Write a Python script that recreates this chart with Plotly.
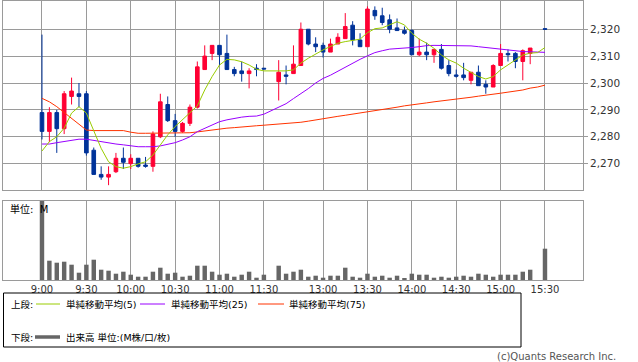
import plotly.graph_objects as go

# ---------------- categories (5-minute slots) ----------------
am_times = []
for h in (9, 10, 11):
    for m in range(0, 60, 5):
        if h == 11 and m > 30:
            break
        am_times.append(f"{h}:{m:02d}")
pm_times = []
for h in (12, 13, 14, 15):
    for m in range(0, 60, 5):
        if (h == 12 and m < 30) or (h == 15 and m > 30):
            continue
        pm_times.append(f"{h}:{m:02d}")
SPACER = " "
all_slots = am_times + [SPACER] + pm_times

tick_labels = ["9:00", "9:30", "10:00", "10:30", "11:00", "11:30",
               "13:00", "13:30", "14:00", "14:30", "15:00", "15:30"]

# ---------------- candle data (no trade at 15:25) ----------------
candle_times = am_times + [t for t in pm_times if t != "15:25"]

opens = [2289, 2282, 2289, 2283, 2295, 2296, 2296, 2275, 2266, 2265,
         2267, 2272, 2270, 2272, 2269.5, 2269, 2280, 2292, 2286, 2282,
         2285, 2291, 2305, 2311, 2314, 2311, 2305, 2304.5, 2303.5, 2305.5,
         2305.5,
         2300.5, 2303, 2303.5, 2306.5, 2320, 2314.5, 2314, 2311.5, 2314.5, 2316.5,
         2321.5, 2316, 2313.5, 2327, 2325, 2323.5, 2320.5, 2319.5, 2319.5, 2310.5,
         2311.5, 2310.5, 2312.5, 2306.5, 2303, 2303, 2301, 2304, 2299.5, 2298.5,
         2306.5, 2311, 2311, 2308, 2311, 2320.2]
highs = [2318, 2291, 2290, 2297, 2302, 2300, 2297, 2276, 2269, 2269,
         2274, 2276, 2273.5, 2272, 2272.5, 2282, 2296, 2295, 2288.5, 2285.5,
         2292, 2308, 2314, 2314, 2314, 2318, 2306, 2308, 2305.5, 2307,
         2305.5,
         2308.5, 2306.5, 2314, 2322.5, 2320, 2317, 2315, 2316.5, 2318.5, 2326,
         2323, 2318.5, 2328.5, 2328.5, 2328, 2325.5, 2324, 2321, 2320, 2316.5,
         2315, 2312.5, 2314.5, 2308.5, 2305, 2307.5, 2304, 2306.5, 2301, 2307,
         2314.5, 2312.5, 2311.5, 2312.5, 2313, 2320.2]
lows = [2279, 2278, 2274, 2281, 2292, 2291, 2273, 2266, 2264, 2262,
        2266.5, 2268, 2268, 2268.5, 2268.5, 2267, 2279.5, 2285.5, 2280, 2281.5,
        2284, 2290.5, 2305, 2308.5, 2306.5, 2305, 2302.5, 2300.5, 2298, 2302.5,
        2305.2,
        2293.5, 2299.5, 2303.5, 2306.5, 2314, 2311.5, 2309.5, 2311.5, 2314.5, 2316.5,
        2314, 2313.5, 2313.5, 2323.5, 2321.5, 2318.5, 2319.5, 2318, 2310.5, 2310,
        2308.5, 2307.5, 2305, 2302.5, 2302, 2301, 2299.5, 2299, 2296, 2298.5,
        2306.5, 2308, 2305.5, 2301, 2307, 2320]
closes = [2282, 2289, 2283, 2296, 2297, 2295, 2274, 2266, 2265, 2266,
          2272, 2270.5, 2272, 2269, 2269, 2281, 2293, 2286, 2282, 2285,
          2291, 2306, 2310, 2314, 2310.5, 2305, 2303.5, 2303.5, 2304.5, 2305,
          2305.2,
          2304, 2302.5, 2307, 2320, 2314.5, 2313.5, 2311.5, 2314.5, 2317, 2321,
          2316, 2313.5, 2327.5, 2325, 2322.5, 2320, 2319.5, 2318.5, 2310.5, 2311.5,
          2310.5, 2312.5, 2305.5, 2303.5, 2302.5, 2302, 2304, 2299, 2298.5, 2306.5,
          2311, 2310.5, 2308, 2312, 2313, 2320]

volumes = [0.79, 0.193, 0.173, 0.183, 0.153, 0.073, 0.153, 0.203, 0.103, 0.093,
           0.063, 0.083, 0.053, 0.033, 0.033, 0.083, 0.123, 0.063, 0.073, 0.033,
           0.043, 0.143, 0.143, 0.083, 0.053, 0.063, 0.033, 0.053, 0.083, 0.023,
           0.053,
           0.143, 0.063, 0.083, 0.103, 0.033, 0.043, 0.023, 0.043, 0.043, 0.123,
           0.033, 0.023, 0.063, 0.033, 0.043, 0.023, 0.043, 0.013, 0.063, 0.053,
           0.053, 0.023, 0.033, 0.023, 0.033, 0.043, 0.033, 0.063, 0.053, 0.033,
           0.053, 0.053, 0.053, 0.083, 0.103, 0.313]

# ---------------- moving averages ----------------
ma_times = am_times + pm_times
ma5 = [2274.7, 2278.2, 2280.0, 2283.2, 2288.8, 2291.2, 2288.8, 2282.5, 2275.7, 2270.7,
       2268.9, 2268.3, 2268.9, 2269.9, 2270.7, 2273.2, 2277.0, 2280.7, 2283.8, 2286.3,
       2288.8, 2291.5, 2297.4, 2302.4, 2306.7, 2308.8, 2308.6, 2307.9, 2306.7, 2305.1,
       2304.5,
       2304.5, 2304.5, 2304.9, 2307.4, 2309.2, 2310.8, 2312.3, 2313.6, 2314.8, 2315.4,
       2315.9, 2316.3, 2318.7, 2320.2, 2320.5, 2321.6, 2322.8, 2321.6, 2318.5, 2316.3,
       2314.8, 2312.9, 2310.4, 2308.6, 2307.4, 2305.5, 2303.9, 2302.4, 2301.5, 2302.4,
       2304.9, 2306.7, 2308.6, 2310.4, 2311.1, 2311.3, 2313.2]
ma25 = [2277.3, 2277.3, 2277.8, 2278.2, 2278.8, 2279.1, 2279.1, 2278.6, 2278.2, 2277.8,
        2277.3, 2277.0, 2276.6, 2276.3, 2276.3, 2276.3, 2276.6, 2277.3, 2277.8, 2278.8,
        2280.0, 2281.9, 2283.2, 2284.4, 2285.6, 2286.3, 2286.9, 2287.3, 2287.6, 2287.7,
        2288.4,
        2290.9, 2292.3, 2294.2, 2296.0, 2297.9, 2300.0, 2301.7, 2302.9, 2304.4, 2305.9,
        2307.5, 2308.8, 2310.1, 2311.3, 2312.0, 2312.6, 2312.8, 2312.9, 2313.2, 2313.5,
        2313.9, 2314.0, 2314.0, 2314.0, 2314.0, 2313.9, 2313.8, 2313.5, 2313.2, 2312.9,
        2312.6, 2312.3, 2311.9, 2311.7, 2311.6, 2311.4, 2311.4]
ma75 = [2294.3, 2293.0, 2291.2, 2289.0, 2287.0, 2284.8, 2282.5, 2282.3, 2282.3, 2282.3,
        2282.3, 2282.3, 2281.7, 2281.3, 2281.3, 2281.3, 2281.3, 2281.3, 2281.3, 2281.3,
        2281.5, 2281.8, 2282.2, 2282.5, 2282.9, 2283.2, 2283.4, 2283.7, 2283.9, 2284.1,
        2284.3,
        2284.7, 2284.8, 2285.1, 2285.4, 2285.8, 2286.3, 2286.7, 2287.1, 2287.6, 2288.0,
        2288.4, 2289.0, 2289.3, 2289.7, 2290.2, 2290.6, 2291.0, 2291.5, 2291.8, 2292.2,
        2292.6, 2293.0, 2293.3, 2293.7, 2294.0, 2294.4, 2294.7, 2295.1, 2295.4, 2295.8,
        2296.2, 2296.6, 2296.9, 2297.4, 2298.1, 2298.5, 2299.2]

price_ticks = [2270, 2280, 2290, 2300, 2310, 2320]

# ---------------- styling ----------------
W, H = 638, 362
ML, MR, MT, MB = 3, 55, 1, 82
PW, PH = W - ML - MR, H - MT - MB
GRID = "#9a9a9a"
UP, DOWN = "#ff0033", "#003399"
C5, C25, C75 = "#99cc00", "#9900ff", "#ff3300"
FONT = "DejaVu Sans, Noto Sans CJK JP, sans-serif"
LEG = 9.5


def px(x):
    return (x - ML) / PW


def py(y):
    return (MT + PH - y) / PH


fig = go.Figure()
fig.add_trace(go.Scatter(x=ma_times, y=ma75, mode="lines",
                         line=dict(color=C75, width=1), xaxis="x", yaxis="y"))
fig.add_trace(go.Scatter(x=ma_times, y=ma25, mode="lines",
                         line=dict(color=C25, width=1), xaxis="x", yaxis="y"))
fig.add_trace(go.Candlestick(
    x=candle_times, open=opens, high=highs, low=lows, close=closes,
    increasing=dict(line=dict(color=UP, width=1), fillcolor=UP),
    decreasing=dict(line=dict(color=DOWN, width=1), fillcolor=DOWN),
    whiskerwidth=0, xaxis="x", yaxis="y"))
fig.add_trace(go.Scatter(x=ma_times, y=ma5, mode="lines",
                         line=dict(color=C5, width=1), xaxis="x", yaxis="y"))
fig.add_trace(go.Bar(x=candle_times, y=volumes, marker=dict(color="#666666", line=dict(width=0)),
                     width=0.6, xaxis="x2", yaxis="y2"))

xr = [-5.27, 73.14]
common_x = dict(type="category", categoryorder="array", categoryarray=all_slots,
                range=xr, tickmode="array", tickvals=tick_labels, ticktext=tick_labels,
                showgrid=True, gridcolor=GRID, gridwidth=1, showline=True, mirror=True,
                linecolor=GRID, linewidth=1, ticks="", zeroline=False, fixedrange=True,
                automargin=False)

fig.update_layout(
    width=W, height=H,
    margin=dict(l=ML, r=MR, t=MT, b=MB, autoexpand=False),
    paper_bgcolor="white", plot_bgcolor="white",
    showlegend=False,
    font=dict(family=FONT, size=11, color="#333333"),
    xaxis=dict(common_x, anchor="y", showticklabels=False, rangeslider=dict(visible=False)),
    xaxis2=dict(common_x, anchor="y2", showticklabels=True,
                tickfont=dict(size=10, color="#333333")),
    yaxis=dict(domain=[py(190), 1], range=[2260.2, 2330.5], side="right",
               tickmode="array", tickvals=price_ticks, tickformat=",d",
               showgrid=True, gridcolor=GRID, showline=True, mirror=True, linecolor=GRID,
               ticks="outside", ticklen=4, tickcolor=GRID, zeroline=False,
               tickfont=dict(size=10.5, color="#333333"), fixedrange=True,
               automargin=False),
    yaxis2=dict(domain=[0, py(201)], range=[0, 0.79], showticklabels=False,
                showgrid=False, showline=True, mirror=True, linecolor=GRID,
                zeroline=False, ticks="", fixedrange=True, automargin=False),
    bargap=0.4,
)

# label inside the volume pane
fig.add_annotation(x=px(8), y=py(209), xref="paper", yref="paper", text="単位:  M",
                   showarrow=False, xanchor="left", yanchor="middle",
                   font=dict(size=10, color="#000000"))

# legend box
fig.add_shape(type="rect", xref="paper", yref="paper", x0=px(3.5), x1=px(521),
              y0=py(293), y1=py(347), line=dict(color="#000000", width=1))
ly1, ly2 = 304, 337
fig.add_annotation(x=px(9), y=py(ly1), xref="paper", yref="paper", text="上段:",
                   showarrow=False, xanchor="left", yanchor="middle",
                   font=dict(size=LEG, color="#000000"))
legend_items = [("単純移動平均(5)", C5, 36, 60, 64),
                ("単純移動平均(25)", C25, 140, 165, 169),
                ("単純移動平均(75)", C75, 258, 284, 287)]
for txt, col, a, b, t in legend_items:
    fig.add_shape(type="line", xref="paper", yref="paper", x0=px(a), x1=px(b),
                  y0=py(ly1), y1=py(ly1), line=dict(color=col, width=1))
    fig.add_annotation(x=px(t), y=py(ly1), xref="paper", yref="paper", text=txt,
                       showarrow=False, xanchor="left", yanchor="middle",
                       font=dict(size=LEG, color="#000000"))
fig.add_annotation(x=px(9), y=py(ly2), xref="paper", yref="paper", text="下段:",
                   showarrow=False, xanchor="left", yanchor="middle",
                   font=dict(size=LEG, color="#000000"))
fig.add_shape(type="line", xref="paper", yref="paper", x0=px(35), x1=px(60),
              y0=py(ly2), y1=py(ly2), line=dict(color="#666666", width=3.5))
fig.add_annotation(x=px(64), y=py(ly2), xref="paper", yref="paper",
                   text="出来高 単位:(M株/口/枚)",
                   showarrow=False, xanchor="left", yanchor="middle",
                   font=dict(size=LEG, color="#000000"))
fig.add_annotation(x=px(618), y=py(356), xref="paper", yref="paper",
                   text="(c)Quants Research Inc.",
                   showarrow=False, xanchor="right", yanchor="middle",
                   font=dict(size=10, color="#555555"))

fig.write_html("out.html", config={"displayModeBar": False},
               post_script="document.body.style.margin='0';document.body.style.overflow='hidden';")
